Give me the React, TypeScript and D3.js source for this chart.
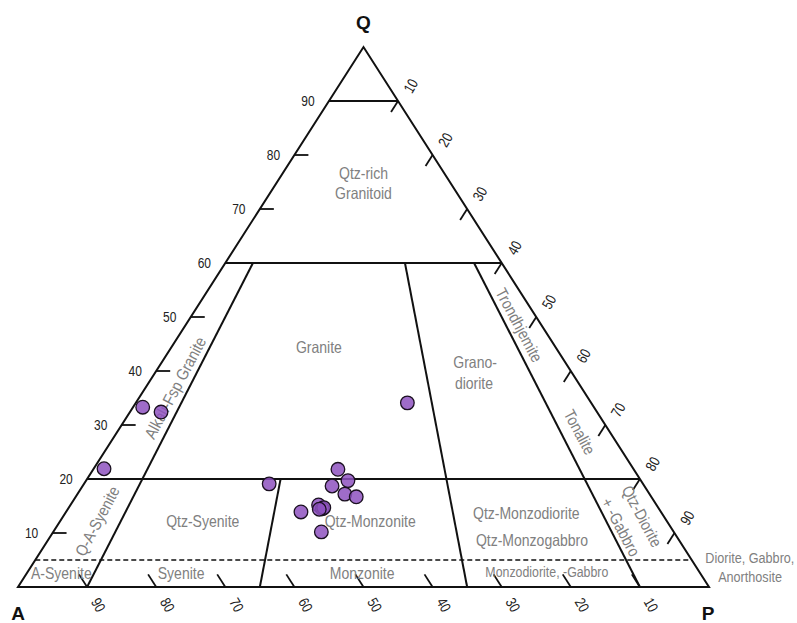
import React from 'react';
import * as d3 from 'd3';

const W = 797;
const H = 623;

// Sample modal compositions (%), Q - A - P
const sampleQ = [33.3, 32.4, 21.9, 19.1, 21.8, 19.7, 18.7, 17.2, 16.7, 13.9, 15.2, 14.5, 14.7, 14.4, 10.2, 34.1];
const sampleA = [65.3, 63.1, 76.6, 54.1, 42.8, 42.4, 45.2, 44.1, 42.7, 52.1, 48.9, 48.7, 48.4, 49.2, 51.0, 26.6];
const sampleP = [1.4, 4.5, 1.5, 26.8, 35.4, 37.9, 36.1, 38.7, 40.6, 34.0, 35.9, 36.8, 36.9, 36.4, 38.8, 39.3];

// Field boundaries
const qLinesSolid = [90, 60, 20];
const qLinesDashed = [5];
const ratioLines = [10, 35, 65, 90]; // P/(A+P) %
const ratioTop = [60, 20, 60, 60]; // upper Q limit of each ratio line

const tickValues = [10, 20, 30, 40, 50, 60, 70, 80, 90];

// Field names with their position as (Q %, P/(A+P) %)
const fieldNames = [
  'Qtz-rich', 'Granitoid', 'Granite', 'Grano-', 'diorite', 'Trondhjemite', 'Tonalite',
  'Alkali-Fsp Granite', 'Q-A-Syenite', 'Qtz-Syenite', 'Qtz-Monzonite', 'Qtz-Monzodiorite',
  'Qtz-Monzogabbro', 'Qtz-Diorite', '+ -Gabbro', 'A-Syenite', 'Syenite', 'Monzonite',
  'Monzodiorite, -Gabbro', 'Diorite, Gabbro,', 'Anorthosite',
];
const fieldQ = [76.7, 73.0, 44.4, 41.7, 37.8, 48.5, 28.7, 36.9, 12.2, 12.2, 12.2, 13.7, 8.7, 13.1, 11.1, 2.6, 2.6, 2.6, 2.8, 5.4, 1.85];
const fieldR = [50, 50, 38.4, 77.7, 75.7, 93.8, 93.9, 6.8, 6.1, 23.5, 51.1, 77.3, 76.7, 96.4, 91.9, 5.1, 22.9, 49.8, 77.3, 109.1, 107.0];
const fieldRot = [0, 0, 0, 0, 0, 62, 62, -62, -62, 0, 0, 0, 0, 62, 62, 0, 0, 0, 0, 0, 0];

const SANS = '"Liberation Sans", Arial, sans-serif';
const fieldSize = [16.3, 16.3, 16.3, 16.3, 16.3, 16.3, 16.3, 16.5, 16.3, 16.3, 16.3, 16.3, 16.3, 16.3, 16.3, 16.3, 16.3, 16.3, 14.4, 14.7, 14.7];
const NARROW_X = 0.86;

const xs = d3.scaleLinear().domain([0, 1]).range([18, 709]);
const ys = d3.scaleLinear().domain([0, 100]).range([587, 47]);

function proj(q: number, a: number, p: number): [number, number] {
  const s = q + a + p;
  const qf = q / s;
  const pf = p / s;
  return [xs(pf + qf / 2), ys(qf * 100)];
}

function ratioPoint(q: number, r: number): [number, number] {
  const rest = 100 - q;
  return proj(q, rest * (1 - r / 100), rest * (r / 100));
}

const line = d3.line<[number, number]>();

export default function App() {
  const Qv = proj(100, 0, 0);
  const Av = proj(0, 100, 0);
  const Pv = proj(0, 0, 100);

  const unit = (from: [number, number], to: [number, number]) => {
    const dx = to[0] - from[0];
    const dy = to[1] - from[1];
    const l = Math.hypot(dx, dy);
    return [dx / l, dy / l];
  };
  const dirLeft = unit(Av, Pv); // left-edge ticks
  const dirRight = unit(Qv, Av); // right-edge ticks
  const dirBottom = unit(Pv, Qv); // bottom ticks
  const TL = 14;

  return (
    <svg width={W} height={H} style={{ position: 'absolute', left: 0, top: 0, background: '#fff' }}>
      {/* field boundaries */}
      {qLinesSolid.map((q) => (
        <path key={'q' + q} d={line([proj(q, 100 - q, 0), proj(q, 0, 100 - q)]) || ''} stroke="#111" strokeWidth={2} fill="none" />
      ))}
      {qLinesDashed.map((q) => (
        <path key={'qd' + q} d={line([proj(q, 100 - q, 0), proj(q, 0, 100 - q)]) || ''} stroke="#111" strokeWidth={1.5} strokeDasharray="5,3" fill="none" />
      ))}
      {ratioLines.map((r, i) => (
        <path key={'r' + r} d={line([ratioPoint(0, r), ratioPoint(ratioTop[i], r)]) || ''} stroke="#111" strokeWidth={2} fill="none" />
      ))}
      {/* triangle */}
      <path d={(line([Av, Pv, Qv]) || '') + 'Z'} stroke="#111" strokeWidth={2} fill="none" strokeLinejoin="miter" />

      {/* ticks */}
      {tickValues.map((v) => {
        const l = proj(v, 100 - v, 0);
        const r = proj(100 - v, 0, v);
        const b = proj(0, v, 100 - v);
        return (
          <g key={'t' + v} stroke="#111" strokeWidth={1.8}>
            <line x1={l[0]} y1={l[1]} x2={l[0] + dirLeft[0] * TL} y2={l[1] + dirLeft[1] * TL} />
            <line x1={r[0]} y1={r[1]} x2={r[0] + dirRight[0] * 13} y2={r[1] + dirRight[1] * 13} />
            <line x1={b[0]} y1={b[1]} x2={b[0] + dirBottom[0] * 15} y2={b[1] + dirBottom[1] * 15} />
          </g>
        );
      })}
      {tickValues.map((v) => {
        const l = proj(v, 100 - v, 0);
        const r = proj(100 - v, 0, v);
        const b = proj(0, v, 100 - v);
        return (
          <g key={'tl' + v} fill="#222" fontFamily={SANS} fontSize={15} textAnchor="middle" dominantBaseline="central">
            <text transform={`translate(${l[0] - 21},${l[1]}) scale(0.8,1)`}>{v}</text>
            <text transform={`translate(${r[0] + 13},${r[1] - 15}) rotate(-60) scale(0.8,1)`}>{v}</text>
            <text transform={`translate(${b[0] + 11},${b[1] + 18}) rotate(60) scale(0.8,1)`}>{v}</text>
          </g>
        );
      })}

      {/* field names */}
      {fieldNames.map((name, i) => {
        const [x, y] = ratioPoint(fieldQ[i], fieldR[i]);
        return (
          <text key={'f' + i} transform={`translate(${x},${y}) rotate(${fieldRot[i]}) scale(${NARROW_X},1)`} fill="#808080" fontFamily={SANS}
            fontSize={fieldSize[i]} textAnchor="middle" dominantBaseline="central">{name}</text>
        );
      })}

      {/* vertex labels */}
      <g fontFamily={SANS} fontWeight="bold" fontSize={19} fill="#111" textAnchor="middle">
        <text x={Qv[0]} y={Qv[1] - 18}>Q</text>
        <text x={Av[0]} y={Av[1] + 33}>A</text>
        <text x={Pv[0] - 1} y={Pv[1] + 33}>P</text>
      </g>

      {/* samples */}
      {sampleQ.map((q, i) => {
        const [x, y] = proj(q, sampleA[i], sampleP[i]);
        return <circle key={'s' + i} cx={x} cy={y} r={6.8} fill="#8e52c0" fillOpacity={0.85} stroke="#1a1020" strokeWidth={1.3} />;
      })}
    </svg>
  );
}
